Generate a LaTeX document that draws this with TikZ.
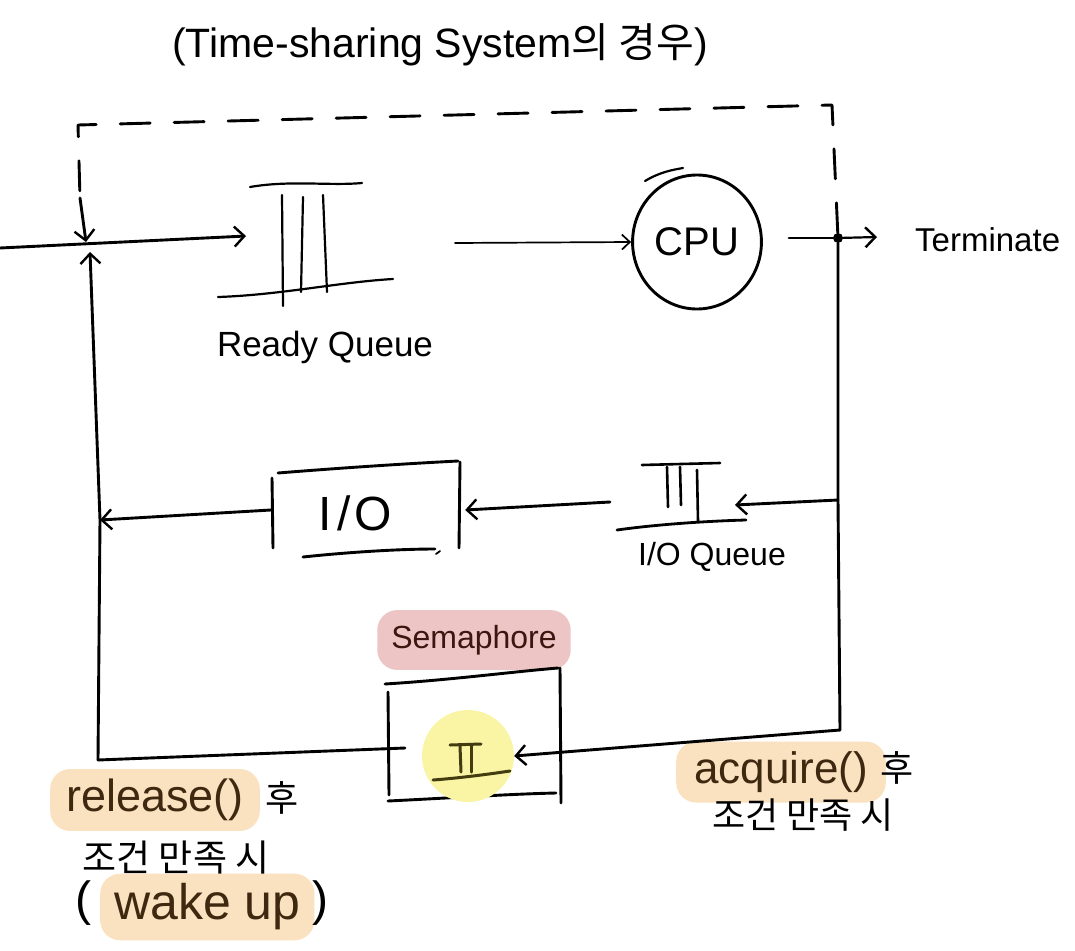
\documentclass[tikz,border=0pt]{standalone}
\usepackage{fontspec}
\setmainfont{Liberation Sans}
\newfontfamily\kr{Noto Sans CJK KR}
\usetikzlibrary{arrows.meta,shapes.geometric}
\definecolor{hlorange}{RGB}{250,226,192}
\definecolor{hlpink}{RGB}{237,197,196}
\definecolor{hlyellow}{RGB}{249,245,165}
\definecolor{brownink}{RGB}{62,40,16}
\definecolor{redink}{RGB}{62,22,16}
\definecolor{oliveink}{RGB}{66,60,16}
\begin{document}
\begin{tikzpicture}[x=1pt,y=-1pt,
  ln/.style={line width=2.9pt,line cap=round,line join=round,black},
  qln/.style={line width=2.2pt,line cap=round,black},
  arr/.style={ln,-{Straight Barb[length=10pt,width=20pt,line width=2.4pt]}},
  tarr/.style={line width=1.7pt,line cap=round,-{Straight Barb[length=8pt,width=15pt,line width=1.7pt]}},
  dashline/.style={ln,dash pattern=on 30pt off 24pt},
  lbl/.style={inner sep=0pt,font=\fontsize{34}{40}\selectfont},
  hl/.style={rounded corners=20pt,inner xsep=12pt,inner ysep=10pt},
  blank/.style={inner sep=0pt,minimum size=0pt}
]
\useasboundingbox (0,0) rectangle (1075,950);
\fill[white] (0,0) rectangle (1075,950);

% title
\node[lbl,font=\fontsize{41}{48}\selectfont] (title) at (440,45) {(Time-sharing System{\kr 의 경우})};

% named points
\coordinate (inL) at (0,248);
\coordinate (jLtop) at (86,242);
\coordinate (jLbot) at (90,252);
\coordinate (dashend) at (80,198);
\coordinate (lm) at (100,520);
\coordinate (lb) at (98,760);
\coordinate (rm) at (838,500);
\coordinate (rb) at (840,730);
\coordinate (rqin) at (246,236);
\coordinate (rqout) at (455,243);
\coordinate (cpuout) at (789,238);
\coordinate (ioqin) at (735,505);
\coordinate (ioqout) at (610,502);
\coordinate (semin) at (405,748);
\coordinate (termend) at (877,237);

% ready queue
\node[blank,minimum width=175pt,minimum height=120pt] (rq) at (305,243) {};
\draw[qln] (250,187) .. controls (290,180) and (330,186) .. (362,183);
\draw[qln] (282,195) -- (283,306);
\draw[qln] (303,197) -- (301,292);
\draw[qln] (323,195) -- (327,292);
\draw[qln] (218,297) .. controls (280,295) and (340,282) .. (393,279);
\node[lbl,font=\fontsize{35}{40}\selectfont] (rqlabel) at (325,347) {Ready Queue};

% CPU
\node[ellipse,draw,line width=2.9pt,minimum width=128pt,minimum height=134pt,font=\fontsize{40}{46}\selectfont] (cpu) at (697,242) {CPU};
\draw[ln,line width=2.2pt] (645,181) .. controls (660,172) and (672,170) .. (683,168);

% junction dot and terminate
\node[circle,fill,inner sep=0pt,minimum size=10pt] (dot) at (838,238) {};
\node[lbl,anchor=west,font=\fontsize{33}{40}\selectfont] (term) at (915,240) {Terminate};

% I/O queue
\node[blank,minimum width=130pt,minimum height=70pt] (ioq) at (682,495) {};
\draw[qln,line width=2.6pt] (642,465) -- (720,463);
\draw[qln,line width=2.6pt] (667,467) -- (668,507);
\draw[qln,line width=2.6pt] (680,467) -- (681,505);
\draw[qln,line width=2.6pt] (697,470) -- (698,521);
\draw[qln,line width=2.8pt] (617,530) .. controls (660,524) and (710,521) .. (746,520);
\node[lbl,font=\fontsize{32}{38}\selectfont] (ioqlabel) at (712,557) {I/O Queue};

% I/O box
\node[blank,minimum width=194pt,minimum height=90pt] (io) at (368,510) {};
\node[lbl,font=\fontsize{48}{54}\selectfont] (iotext) at (355,513) {I\kern6pt/\kern3pt O};
\draw[ln] (278,473) .. controls (340,468) and (400,464) .. (458,461);
\draw[ln] (272,478) -- (273,548);
\draw[ln] (460,462) -- (459,548);
\draw[ln] (303,557) .. controls (350,552) and (400,549) .. (435,549);
\draw[ln,line width=1.8pt] (436,554) -- (440,551);

% semaphore
\node[hl,fill=hlpink,font=\fontsize{32}{38}\selectfont,text=redink,inner xsep=14pt,inner ysep=15pt] (semlabel) at (474,640) {Semaphore};
\node[blank,minimum width=172pt,minimum height=128pt] (sem) at (474,735) {};
\draw[ln] (385,684) .. controls (450,680) and (510,672) .. (558,668);
\draw[ln] (388,692) -- (389,795);
\draw[ln] (560,668) -- (561,803);
\draw[ln] (388,801) .. controls (450,798) and (510,794) .. (556,793);
\node[circle,fill=hlyellow,minimum size=92pt,inner sep=0pt] (semq) at (468,756) {};
\draw[qln,oliveink,line width=3pt] (450,745) -- (481,744);
\draw[qln,oliveink,line width=3pt] (460,746) -- (461,772);
\draw[qln,oliveink,line width=3pt] (471,746) -- (471,772);
\draw[qln,oliveink,line width=3pt] (433,780) .. controls (460,778) and (490,774) .. (510,771);

% annotations
\node[hl,fill=hlorange,text=brownink,font=\fontsize{45}{50}\selectfont,inner xsep=16pt] (rel) at (155,800) {release()};
\node[lbl,anchor=west,font=\kr\fontsize{36}{42}\selectfont] (relhu) at (265,798) {후};
\node[lbl,font=\kr\fontsize{37}{42}\selectfont] (relcond) at (176,858) {조건 만족 시};
\node[hl,fill=hlorange,text=brownink,font=\fontsize{50}{56}\selectfont,anchor=west,inner xsep=14pt] (wake) at (100,907) {wake up};
\node[lbl,anchor=east,font=\fontsize{48}{54}\selectfont] (wlp) at (92,903) {(};
\node[lbl,anchor=west,font=\fontsize{48}{54}\selectfont] (wrp) at (312,903) {)};

\node[hl,fill=hlorange,text=brownink,font=\fontsize{44}{50}\selectfont,inner xsep=18pt] (acq) at (781,772) {acquire()};
\node[lbl,anchor=west,font=\kr\fontsize{36}{42}\selectfont] (acqhu) at (880,768) {후};
\node[lbl,font=\kr\fontsize{36}{42}\selectfont] (acqcond) at (803,815) {조건 만족 시};

% connectors
\draw[arr] (inL) -- (rqin);
\draw[tarr] (rqout) -- (cpu.west);
\draw[ln] (cpuout) -- (dot);
\draw[arr,line width=2.2pt] (dot) -- (termend);
\draw[dashline] (dot) -- (832,105) -- (78,125) -- (dashend);
\draw[arr] (dashend) -- (jLtop);
\draw[arr] (lb) -- (lm) -- (jLbot);
\draw[ln] (dot) -- (rm) -- (rb);
\draw[arr] (rm) -- (ioqin);
\draw[arr] (ioqout) -- (io.east);
\draw[arr] (io.west) -- (lm);
\draw[ln] (lb) -- (semin);
\draw[arr] (rb) -- (semq.east);
\end{tikzpicture}
\end{document}
